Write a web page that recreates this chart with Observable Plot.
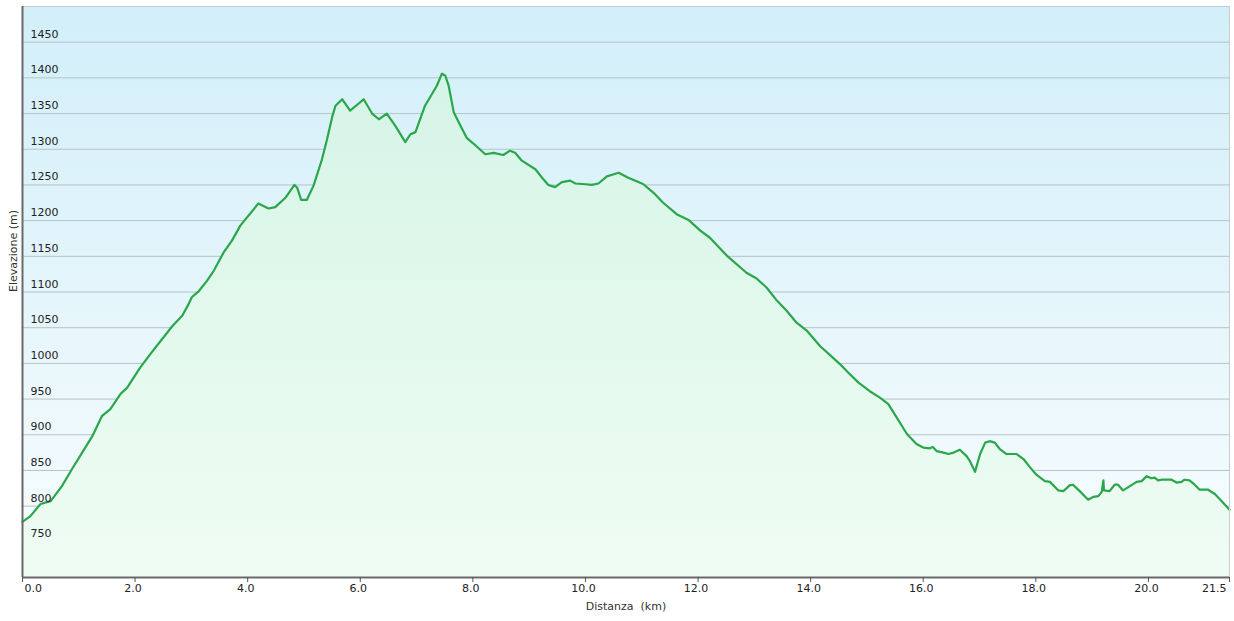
<!DOCTYPE html>
<html>
<head>
<meta charset="utf-8">
<script src="https://cdn.jsdelivr.net/npm/d3@7"></script>
<script src="https://cdn.jsdelivr.net/npm/@observablehq/plot@0.6"></script>
<style>
  html, body { margin: 0; padding: 0; background: #fff; }
  svg text { white-space: pre; }
</style>
</head>
<body>
<div id="chart"></div>
<script>
// Distance along the route (km)
const distKm = [
  0.00, 0.14, 0.32, 0.50, 0.70, 0.88, 1.06, 1.24, 1.41, 1.56, 1.74, 1.86, 2.09, 2.27, 2.45, 2.66, 2.84, 2.95, 3.01, 3.13,
  3.28, 3.40, 3.57, 3.72, 3.87, 3.93, 4.19, 4.37, 4.49, 4.67, 4.83, 4.88, 4.95, 5.05, 5.17, 5.32, 5.41, 5.50, 5.56, 5.68,
  5.82, 5.94, 6.06, 6.21, 6.33, 6.47, 6.62, 6.80, 6.89, 6.98, 7.15, 7.36, 7.45, 7.51, 7.57, 7.66, 7.78, 7.89, 8.01, 8.22,
  8.37, 8.54, 8.66, 8.75, 8.87, 9.11, 9.23, 9.34, 9.46, 9.58, 9.73, 9.82, 10.00, 10.11, 10.23, 10.38, 10.59, 10.76, 10.94, 11.03,
  11.21, 11.38, 11.62, 11.83, 12.04, 12.21, 12.51, 12.86, 13.04, 13.22, 13.40, 13.57, 13.75, 13.93, 14.17, 14.34, 14.52, 14.67, 14.85, 15.05,
  15.23, 15.38, 15.53, 15.71, 15.88, 16.00, 16.12, 16.17, 16.24, 16.36, 16.45, 16.54, 16.65, 16.77, 16.83, 16.92, 17.01, 17.10, 17.18, 17.27,
  17.36, 17.48, 17.66, 17.78, 17.89, 18.01, 18.16, 18.25, 18.40, 18.49, 18.60, 18.66, 18.78, 18.93, 19.02, 19.11, 19.17, 19.20, 19.21, 19.31,
  19.40, 19.46, 19.55, 19.67, 19.79, 19.88, 19.97, 20.05, 20.11, 20.17, 20.23, 20.41, 20.50, 20.59, 20.64, 20.73, 20.82, 20.91, 21.06, 21.18,
  21.29, 21.44
];
// Elevation (m)
const elevM = [
  778, 786, 803, 807, 828, 852, 875, 898, 926, 936, 957, 966, 994, 1013, 1031, 1052, 1067, 1083, 1093, 1101,
  1116, 1130, 1155, 1172, 1193, 1199, 1224, 1217, 1219, 1232, 1250, 1246, 1229, 1229, 1249, 1286, 1314, 1345, 1361, 1370,
  1354, 1362, 1370, 1350, 1342, 1350, 1333, 1310, 1321, 1324, 1361, 1389, 1406, 1403, 1389, 1352, 1333, 1316, 1308, 1293,
  1295, 1292, 1298, 1295, 1284, 1272, 1260, 1250, 1247, 1254, 1256, 1252, 1251, 1250, 1252, 1262, 1267, 1260, 1254, 1251,
  1239, 1225, 1209, 1201, 1186, 1176, 1151, 1127, 1119, 1106, 1088, 1074, 1057, 1046, 1024, 1012, 999, 987, 973, 961,
  952, 943, 924, 901, 887, 882, 881, 883, 877, 875, 873, 875, 879, 870, 863, 848, 873, 889, 891, 889,
  880, 873, 873, 866, 855, 844, 835, 834, 822, 821, 829, 830, 821, 809, 813, 814, 820, 836, 822, 821,
  830, 830, 822, 828, 834, 835, 842, 839, 840, 836, 837, 837, 833, 834, 837, 836, 830, 823, 823, 817,
  808, 795
];
const yTicks = [750, 800, 850, 900, 950, 1000, 1050, 1100, 1150, 1200, 1250, 1300, 1350, 1400, 1450];
const xTickValues = [0, 2, 4, 6, 8, 10, 12, 14, 16, 18, 20, 21.44];
const xTickLabels = ["0.0", "2.0", "4.0", "6.0", "8.0", "10.0", "12.0", "14.0", "16.0", "18.0", "20.0", "21.5"];
const yDomain = [700, 1500];
const xTitle = "Distanza  (km)";
const yTitle = "Elevazione (m)";

const data = distKm.map((d, i) => ({d, e: elevM[i]}));
const xTicksData = xTickValues.map((v, i) => ({v, label: xTickLabels[i]}));
const nT = xTicksData.length;

function gradients(index, scales) {
  const ns = "http://www.w3.org/2000/svg";
  const defs = document.createElementNS(ns, "defs");
  const top = scales.y(yDomain[1]), bottom = scales.y(yDomain[0]);
  const mk = (id, stops) => {
    const g = document.createElementNS(ns, "linearGradient");
    g.setAttribute("id", id);
    g.setAttribute("gradientUnits", "userSpaceOnUse");
    g.setAttribute("x1", 0); g.setAttribute("x2", 0);
    g.setAttribute("y1", top); g.setAttribute("y2", bottom);
    for (const [o, c] of stops) {
      const s = document.createElementNS(ns, "stop");
      s.setAttribute("offset", o);
      s.setAttribute("stop-color", c);
      g.appendChild(s);
    }
    defs.appendChild(g);
  };
  mk("bgGrad", [[0, "#d2eff9"], [0.5, "#e4f5fb"], [1, "#f8fdfe"]]);
  mk("areaGrad", [[0, "#d2f2e6"], [0.5, "#e1f8ec"], [1, "#effcf4"]]);
  return defs;
}

const chart = Plot.plot({
  width: 1234,
  height: 621,
  marginTop: 6,
  marginBottom: 44,
  marginLeft: 22,
  marginRight: 5,
  x: {domain: [0, xTickValues[xTickValues.length - 1]], axis: null},
  y: {domain: yDomain, axis: null},
  style: {fontFamily: "'DejaVu Sans', Verdana, sans-serif", fontSize: "11px", background: "#fff", color: "#222"},
  marks: [
    gradients,
    Plot.frame({fill: "url(#bgGrad)", stroke: null}),
    Plot.ruleY(yTicks, {stroke: "#b7c2c6", strokeWidth: 1}),
    Plot.areaY(data, {x: "d", y1: yDomain[0], y2: "e", fill: "url(#areaGrad)"}),
    Plot.lineY(data, {x: "d", y: "e", stroke: "#2aa64b", strokeWidth: 2.2, curve: "linear"}),
    Plot.text(yTicks, {y: d => d, frameAnchor: "left", textAnchor: "start", dx: 8, dy: -8, text: d => String(d), fill: "#222"}),
    Plot.frame({stroke: "#c6cdd0"}),
    Plot.ruleX([0], {stroke: "#6a6a6a", strokeWidth: 2}),
    Plot.ruleY([yDomain[0]], {stroke: "#6a6a6a", strokeWidth: 2}),
    Plot.axisX({ticks: xTickValues, tickSize: 5, tickFormat: () => "", stroke: "#555"}),
    Plot.text(xTicksData.slice(0, 1), {x: "v", text: "label", frameAnchor: "bottom", textAnchor: "start", dx: 2, dy: 14, fill: "#222"}),
    Plot.text(xTicksData.slice(1, nT - 1), {x: "v", text: "label", frameAnchor: "bottom", dx: -2, dy: 14, fill: "#222"}),
    Plot.text(xTicksData.slice(nT - 1), {x: "v", text: "label", frameAnchor: "bottom", textAnchor: "end", dx: -3, dy: 14, fill: "#222"}),
    Plot.text([xTitle], {text: d => d, frameAnchor: "bottom", dy: 32, fill: "#333"}),
    Plot.text([yTitle], {text: d => d, frameAnchor: "left", dx: -9, rotate: -90, fill: "#333"})
  ]
});
document.getElementById("chart").appendChild(chart);
</script>
</body>
</html>
